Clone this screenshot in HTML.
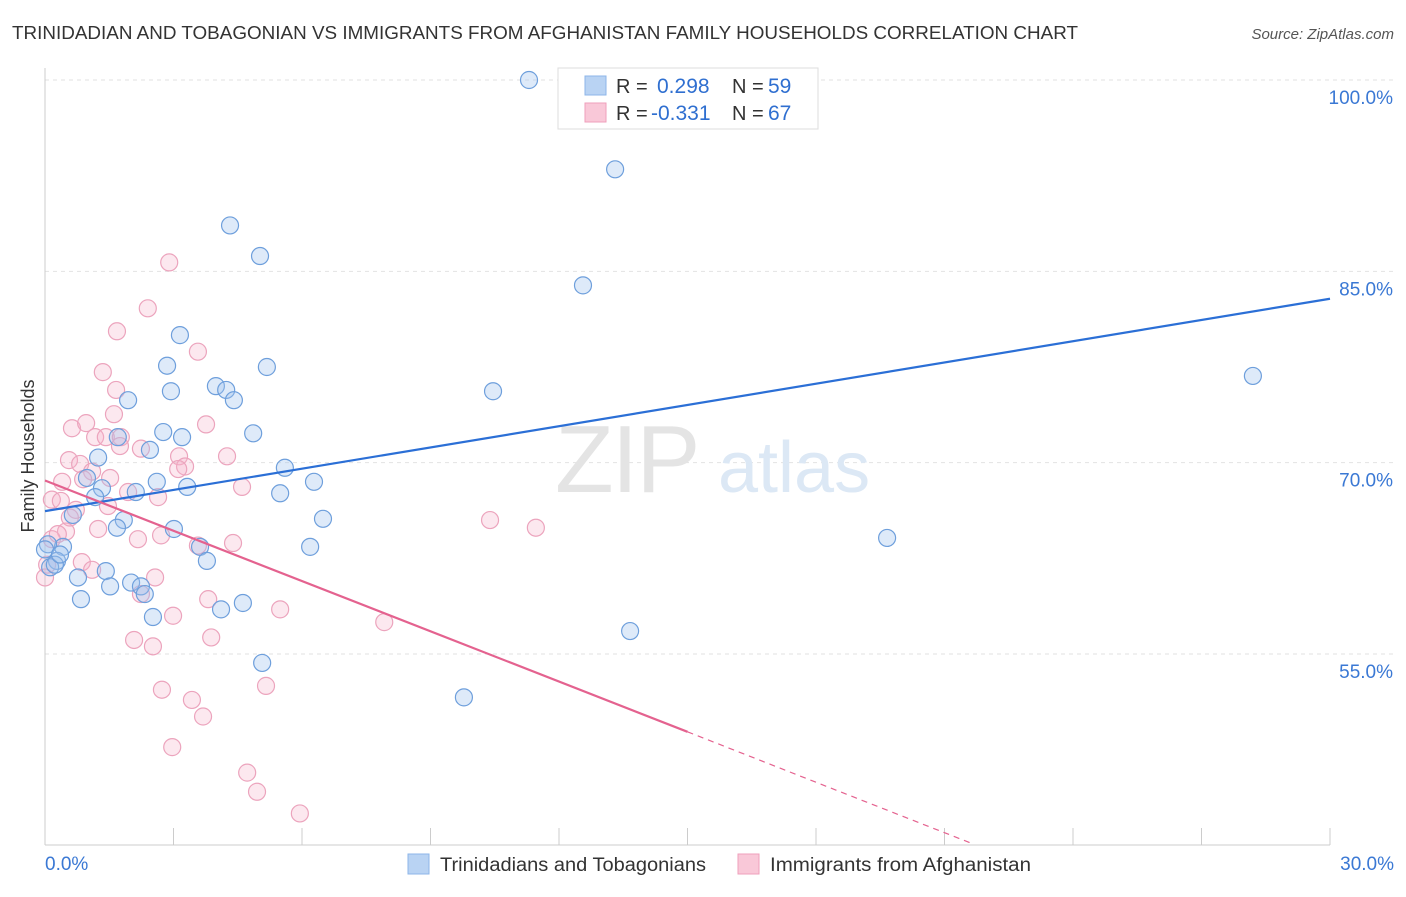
<!DOCTYPE html>
<html><head><meta charset="utf-8"><style>
body{margin:0;background:#fff;font-family:"Liberation Sans",sans-serif;}
svg text{font-family:"Liberation Sans",sans-serif;}
</style></head><body>
<svg id="chart" width="1406" height="892" xmlns="http://www.w3.org/2000/svg">
<text x="12" y="39" font-size="18.5" fill="#333" textLength="1066" lengthAdjust="spacingAndGlyphs">TRINIDADIAN AND TOBAGONIAN VS IMMIGRANTS FROM AFGHANISTAN FAMILY HOUSEHOLDS CORRELATION CHART</text>
<text x="1394" y="39" font-size="15" fill="#555" font-style="italic" text-anchor="end">Source: ZipAtlas.com</text>
<text transform="translate(34,456) rotate(-90)" font-size="18" fill="#333" text-anchor="middle">Family Households</text>
<g id="grid"></g>
<g>
<text x="555" y="492" font-size="96" fill="#e4e4e4" font-family="Liberation Serif" letter-spacing="-2">ZIP</text>
<text x="718" y="492" font-size="72" fill="#dce8f5">atlas</text>
</g>
<g id="marks"></g>
<g>
<rect x="558" y="68" width="260" height="61" fill="#fff" stroke="#ddd"/>
<rect x="585" y="76" width="21" height="19" fill="#b9d3f3" stroke="#8db6e8"/>
<rect x="585" y="103" width="21" height="19" fill="#f9c8d8" stroke="#ef9fbb"/>
<text x="616" y="93" font-size="20" fill="#333">R = </text><text x="657" y="93" font-size="21" fill="#2f6fd0">0.298</text>
<text x="732" y="93" font-size="20" fill="#333">N = </text><text x="768" y="93" font-size="21" fill="#2f6fd0">59</text>
<text x="616" y="120" font-size="20" fill="#333">R = </text><text x="651" y="120" font-size="21" fill="#2f6fd0">-0.331</text>
<text x="732" y="120" font-size="20" fill="#333">N = </text><text x="768" y="120" font-size="21" fill="#2f6fd0">67</text>
</g>
<g>
<rect x="408" y="854" width="21" height="20" fill="#b9d3f3" stroke="#8db6e8"/>
<text x="440" y="871" font-size="19" fill="#333" textLength="266" lengthAdjust="spacingAndGlyphs">Trinidadians and Tobagonians</text>
<rect x="738" y="854" width="21" height="20" fill="#f9c8d8" stroke="#ef9fbb"/>
<text x="770" y="871" font-size="19" fill="#333" textLength="261" lengthAdjust="spacingAndGlyphs">Immigrants from Afghanistan</text>
</g>
</svg>
<script>
const yTicks=[55,70,85,100];
const yTickLabels=["55.0%","70.0%","85.0%","100.0%"];
const xTicks=[0,3,6,9,12,15,18,21,24,27,30];
const xEndLabels=["0.0%","30.0%"];
const blueX=[11.30,13.31,4.32,5.02,12.56,3.15,2.85,5.18,10.46,28.20,2.94,3.99,4.23,4.41,1.94,2.76,3.20,4.86,1.70,2.45,1.24,5.60,6.28,2.61,3.32,5.49,2.12,0.98,1.33,1.17,0.65,1.84,1.68,3.01,6.49,19.66,3.62,6.19,0.42,0.07,0.28,3.78,1.42,0.77,2.01,2.24,1.52,0.84,2.33,4.62,4.11,2.52,13.66,5.07,9.78,0.12,0.23,0.0,0.35];
const blueY=[100.0,93.0,88.6,86.2,83.9,80.0,77.6,77.5,75.6,76.8,75.6,76.0,75.7,74.9,74.9,72.4,72.0,72.3,72.0,71.0,70.4,69.6,68.5,68.5,68.1,67.6,67.7,68.8,68.0,67.3,65.9,65.5,64.9,64.8,65.6,64.1,63.4,63.4,63.4,63.6,62.3,62.3,61.5,61.0,60.6,60.3,60.3,59.3,59.7,59.0,58.5,57.9,56.8,54.3,51.6,61.8,62.0,63.2,62.8];
const pinkX=[2.90,2.40,1.68,3.57,1.35,1.66,1.61,3.76,0.63,0.96,1.17,1.42,1.77,1.75,2.24,3.13,4.25,0.56,0.82,3.27,3.11,1.10,1.52,0.40,0.89,4.60,1.94,2.64,0.16,0.37,0.72,1.47,0.58,10.39,11.46,0.49,1.24,2.71,2.17,0.16,4.39,3.57,0.86,1.10,2.57,3.81,2.24,5.49,2.99,7.92,3.88,2.08,2.52,5.16,2.73,3.43,3.69,2.97,4.72,4.95,5.95,0.0,0.30,0.05];
const pinkY=[85.7,82.1,80.3,78.7,77.1,75.7,73.8,73.0,72.7,73.1,72.0,72.0,72.0,71.3,71.1,70.5,70.5,70.2,69.9,69.7,69.5,69.3,68.8,68.5,68.7,68.1,67.7,67.3,67.1,67.0,66.3,66.6,65.7,65.5,64.9,64.6,64.8,64.3,64.0,64.0,63.7,63.5,62.2,61.6,61.0,59.3,59.7,58.5,58.0,57.5,56.3,56.1,55.6,52.5,52.2,51.4,50.1,47.7,45.7,44.2,42.5,61.0,64.4,62.0];
const blueTrend=[[0,66.2],[30,82.85]];
const pinkTrend=[[0,68.6],[15,48.9]];
const pinkDash=[[15,48.9],[21.6,40.2]];
const X0=45,X1=1330;
const sx=v=>X0+(X1-X0)*v/30;
const sy=v=>80+(100-v)*(654-80)/45;
const NS="http://www.w3.org/2000/svg";
const grid=document.getElementById('grid'),marks=document.getElementById('marks');
function mk(tag,at,parent){const e=document.createElementNS(NS,tag);for(const k in at)e.setAttribute(k,at[k]);parent.appendChild(e);return e;}
yTicks.forEach((t,i)=>{
 const l=mk('line',{x1:X0,x2:1394,y1:sy(t),y2:sy(t),stroke:'#e2e2e2','stroke-dasharray':'4,4'},grid);
 
 
 const tx=mk('text',{x:1393,y:sy(t)+24,'font-size':19,fill:'#3a78d4','text-anchor':'end'},grid);
 tx.textContent=yTickLabels[i];
 
 
});
const ax=mk('line',{x1:X0,x2:X0,y1:68,y2:845,stroke:'#ccc'},grid);


const bx=mk('line',{x1:X0,x2:X1,y1:845,y2:845,stroke:'#ccc'},grid);


xTicks.forEach(t=>{const l=mk('line',{x1:sx(t),x2:sx(t),y1:828,y2:845,stroke:'#ccc'},grid);
 
 });
[[0,'start'],[30,'end']].forEach((p,i)=>{const tx=mk('text',{x:sx(p[0])+(i?64:0),y:870,'font-size':19,fill:'#3a78d4','text-anchor':p[1]},grid);
 tx.textContent=xEndLabels[i];
 
 });
function pts(xs,ys,fill,stroke,name){xs.forEach((x,i)=>{const c=mk('circle',{cx:sx(x),cy:sy(ys[i]),r:8.5,fill:fill,stroke:stroke,'stroke-width':1.2},marks);
 
 });}
pts(pinkX,pinkY,'rgba(246,180,203,0.3)','#eca4bd','afghanistan-point');
pts(blueX,blueY,'rgba(160,195,238,0.35)','#6e9fdc','trinidadian-point');
function ln(p,col,dash,name){const l=mk('line',{x1:sx(p[0][0]),y1:sy(p[0][1]),x2:sx(p[1][0]),y2:sy(p[1][1]),stroke:col,'stroke-width':dash?1.2:2.2},marks);
 if(dash)l.setAttribute('stroke-dasharray','6,5');
 
 }
ln(blueTrend,'#2b6fd6',false,'trinidadian-trendline');
ln(pinkTrend,'#e4628f',false,'afghanistan-trendline');
ln(pinkDash,'#e4628f',true,'afghanistan-trendline-extension');
</script>
</body></html>
